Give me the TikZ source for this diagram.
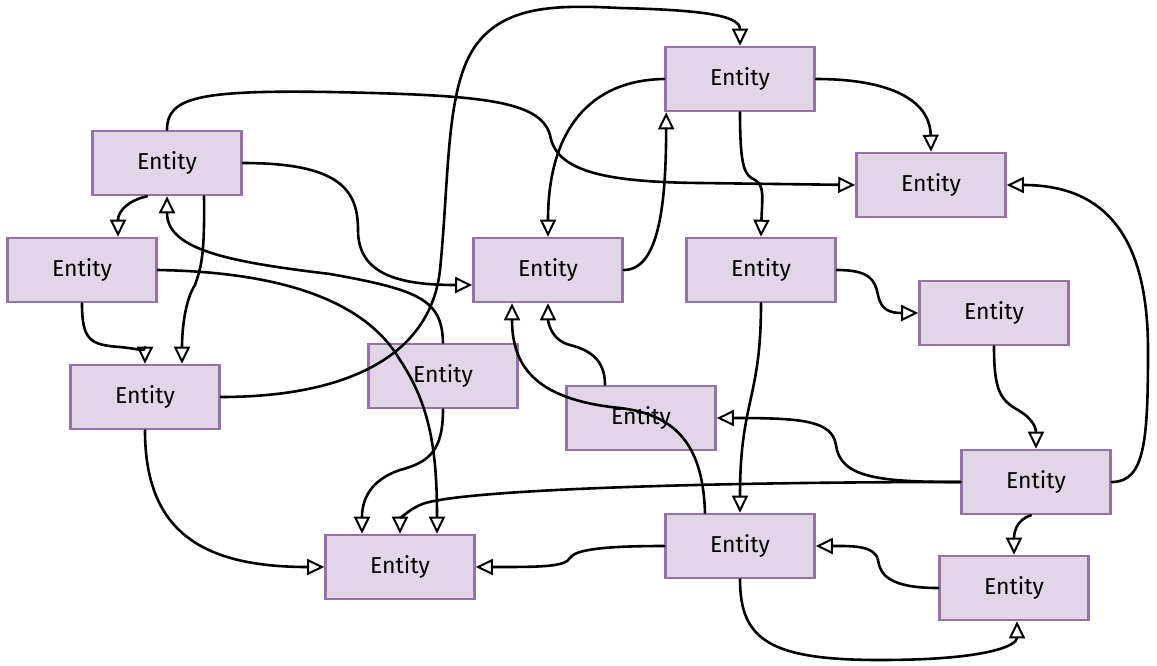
\documentclass[tikz,border=0pt]{standalone}
\usepackage{fontspec}
\setmainfont{Fira Sans}
\usetikzlibrary{arrows.meta,calc}
\definecolor{boxfill}{HTML}{E1D5E7}
\definecolor{boxline}{HTML}{9673A6}
\tikzset{
  entity/.style={draw=boxline, fill=boxfill, line width=2.6pt, minimum width=149pt, minimum height=64pt, inner sep=0pt, font=\fontsize{23}{27}\selectfont, text=black},
  edge/.style={line width=2.6pt, black, line cap=round, -{Triangle[open,length=17pt,width=16pt,line width=2pt]}}
}
\begin{document}
\begin{tikzpicture}[x=1pt,y=-1pt]
\useasboundingbox[fill=white] (0,0) rectangle (1157,665);
% nodes
\node[entity] (A) at (167,163) {Entity};
\node[entity] (B) at (82,270) {Entity};
\node[entity] (C) at (145,397) {Entity};
\node[entity] (D) at (443,376) {Entity};
\node[entity] (E) at (400,567) {Entity};
\node[entity] (F) at (548,270) {Entity};
\node[entity] (G) at (740,79) {Entity};
\node[entity] (H) at (931,185) {Entity};
\node[entity] (I) at (761,270) {Entity};
\node[entity] (J) at (994,313) {Entity};
\node[entity] (K) at (641,418) {Entity};
\node[entity] (L) at (1036,482) {Entity};
\node[entity] (M) at (740,546) {Entity};
\node[entity] (N) at (1014,588) {Entity};
% edges
\draw[edge] (A.north) .. controls (167,97) and (200,90) .. (330,92) .. controls (480,95) and (540,100) .. (550,135) .. controls (556,170) and (600,182) .. (700,183) -- (H.west);
\draw[edge] (A.east) .. controls (340,163) and (358,190) .. (358,230) .. controls (358,275) and (400,285) .. ($(F.west)+(0,15)$);
\draw[edge] ($(A.south)+(-20,0)$) .. controls (130,200) and (118,210) .. ($(B.north)+(36,0)$);
\draw[edge] ($(A.south)+(37,0)$) .. controls (205,260) and (200,270) .. (195,285) .. controls (185,300) and (182,330) .. ($(C.north)+(37,0)$);
\draw[edge] (D.north) .. controls (442,300) and (420,290) .. (330,274) .. controls (230,262) and (167,250) .. (A.south);
\draw[edge] (B.east) .. controls (280,272) and (365,300) .. (400,360) .. controls (430,405) and (437,450) .. ($(E.north)+(37,0)$);
\draw[edge] (B.south) .. controls (82,340) and (90,345) .. (120,347) .. controls (140,349) and (145,352) .. (C.north);
\draw[edge] (C.east) .. controls (340,397) and (430,360) .. (440,270) .. controls (450,170) and (445,80) .. (480,40) .. controls (510,5) and (560,5) .. (620,8) .. controls (700,10) and (740,15) .. (G.north);
\draw[edge] (C.south) .. controls (145,530) and (200,567) .. (E.west);
\draw[edge] (D.south) .. controls (443,450) and (430,462) .. (400,470) .. controls (370,480) and (362,500) .. ($(E.north)+(-38,0)$);
\draw[edge] (G.west) .. controls (590,80) and (548,130) .. (F.north);
\draw[edge] (F.east) .. controls (660,270) and (666,200) .. ($(G.south west)+(2,0)$);
\draw[edge] (G.east) .. controls (890,79) and (930,100) .. (H.north);
\draw[edge] (G.south) .. controls (740,170) and (745,175) .. (755,180) .. controls (765,185) and (762,200) .. (I.north);
\draw[edge] (I.east) .. controls (870,270) and (875,280) .. (878,295) .. controls (881,310) and (890,313) .. (J.west);
\draw[edge] (I.south) .. controls (761,400) and (740,400) .. (M.north);
\draw[edge] (J.south) .. controls (994,390) and (1000,400) .. (1018,410) .. controls (1035,420) and (1036,430) .. (L.north);
\draw[edge] (L.east) .. controls (1145,482) and (1148,440) .. (1148,350) .. controls (1148,230) and (1100,185) .. (H.east);
\draw[edge] (L.west) .. controls (880,482) and (840,478) .. (836,445) .. controls (832,420) and (800,418) .. (K.east);
\draw[edge] (L.west) .. controls (700,482) and (450,490) .. (420,505) .. controls (405,512) and (400,520) .. (E.north);
\draw[edge] ($(L.south)+(-5,0)$) .. controls (1015,520) and (1014,535) .. (N.north);
\draw[edge] (N.west) .. controls (890,588) and (880,575) .. (878,560) .. controls (875,545) and (850,546) .. (M.east);
\draw[edge] (M.south) .. controls (740,640) and (770,660) .. (880,660) .. controls (990,660) and (1017,645) .. ($(N.south)+(3,0)$);
\draw[edge] (M.west) .. controls (600,546) and (575,550) .. (570,558) .. controls (565,567) and (540,567) .. (E.east);
\draw[edge] ($(M.north)+(-35,0)$) .. controls (703,450) and (680,415) .. (620,408) .. controls (540,400) and (512,370) .. ($(F.south)+(-36,0)$);
\draw[edge] ($(K.north)+(-36,0)$) .. controls (605,360) and (590,350) .. (570,345) .. controls (550,340) and (548,320) .. (F.south);
\end{tikzpicture}
\end{document}
